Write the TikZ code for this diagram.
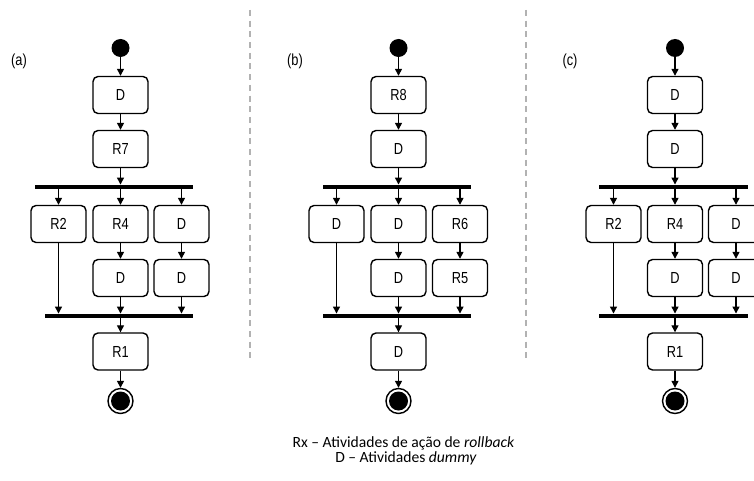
\documentclass[tikz,border=0pt]{standalone}
\usepackage{fontspec}
\setmainfont{Liberation Sans}
\newfontfamily\narrowfont[FakeStretch=0.8]{Liberation Sans}
\newfontfamily\legfont{Carlito}
\usetikzlibrary{arrows.meta}
\begin{document}
\begin{tikzpicture}[x=1pt,y=-1pt,
 act/.style={draw, rounded corners=5pt, line width=1.4pt, minimum width=55pt, minimum height=37pt, inner sep=0pt, font=\narrowfont\fontsize{16}{19}\selectfont},
 flow/.style={line width=1.3pt, -{Triangle[length=7pt,width=7pt]}},
 barnode/.style={fill=black, inner sep=0pt, minimum height=4.5pt},
 sep/.style={draw=black!30, line width=1.3pt, dash pattern=on 6pt off 4.7pt},
 startnode/.style={circle, fill=black, minimum size=18pt, inner sep=0pt},
 endnode/.style={circle, draw, line width=1.4pt, minimum size=25pt, inner sep=0pt, path picture={\fill (path picture bounding box.center) circle (9.5pt);}},
 plabel/.style={font=\narrowfont\fontsize{16}{19}\selectfont, inner sep=0pt},
 legend/.style={font=\legfont\fontsize{15.6}{18}\selectfont, inner sep=0pt}]
\useasboundingbox (0,0) rectangle (754,481);
\clip (0,0) rectangle (754,481);
\fill[white] (0,0) rectangle (754,481);
\draw[sep] (250,10) -- (250,362);
\draw[sep] (526,10) -- (526,362);
\foreach \p/\cx/\lx/\rx/\fl/\jl/\fr/\lab/\labx/\ta/\tb/\tc/\td/\te/\tf/\tg/\th in {
 a/120.5/58.5/181.5/35/45/193/(a)/19/D/R7/R2/R4/D/D/D/R1,
 b/398.5/336.5/460/323/323/471/(b)/295/R8/D/D/D/R6/D/R5/D,
 c/675/613.5/736/599/599/748/(c)/570/D/D/R2/R4/D/D/D/R1}{
 \node[plabel] (\p-lab) at (\labx,61) {\lab};
 \node[startnode] (\p-s) at (\cx,48) {};
 \node[act] (\p-1) at (\cx,95) {\ta};
 \node[act] (\p-2) at (\cx,149) {\tb};
 \node[barnode, minimum width={\fr pt-\fl pt}] (\p-fork) at ({(\fl+\fr)/2},187) {};
 \node[act] (\p-3) at (\lx,224) {\tc};
 \node[act] (\p-4) at (\cx,224) {\td};
 \node[act] (\p-5) at (\rx,224) {\te};
 \node[act] (\p-6) at (\cx,278) {\tf};
 \node[act] (\p-7) at (\rx,278) {\tg};
 \node[barnode, minimum width={\fr pt-\jl pt}] (\p-join) at ({(\jl+\fr)/2},316) {};
 \node[act] (\p-8) at (\cx,351.5) {\th};
 \node[endnode] (\p-e) at (\cx,401) {};
 \draw[flow] (\p-s) -- (\p-1);
 \draw[flow] (\p-1) -- (\p-2);
 \draw[flow] (\p-2) -- (\p-2 |- \p-fork.north);
 \draw[flow] (\p-3 |- \p-fork.south) -- (\p-3);
 \draw[flow] (\p-4 |- \p-fork.south) -- (\p-4);
 \draw[flow] (\p-5 |- \p-fork.south) -- (\p-5);
 \draw[flow] (\p-4) -- (\p-6);
 \draw[flow] (\p-5) -- (\p-7);
 \draw[flow] (\p-3) -- (\p-3 |- \p-join.north);
 \draw[flow] (\p-6) -- (\p-6 |- \p-join.north);
 \draw[flow] (\p-7) -- (\p-7 |- \p-join.north);
 \draw[flow] (\p-8 |- \p-join.south) -- (\p-8);
 \draw[flow] (\p-8) -- (\p-e);
}
\node[legend] (leg1) at (403.5,443) {Rx – Atividades de ação de \textit{rollback}};
\node[legend] (leg2) at (406,458) {D – Atividades \textit{dummy}};
\end{tikzpicture}
\end{document}
